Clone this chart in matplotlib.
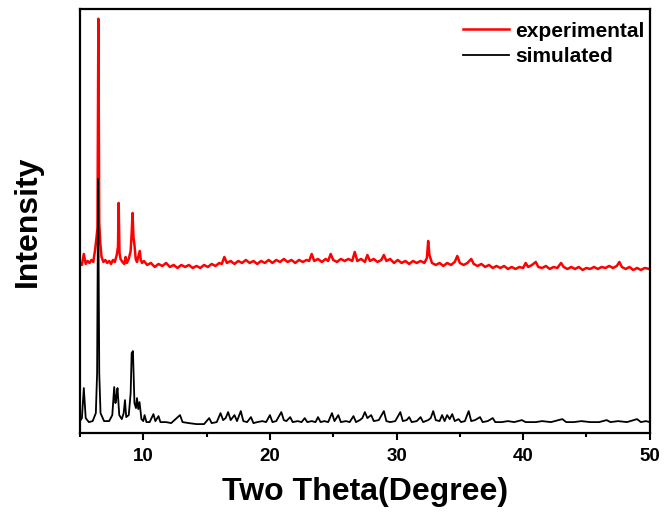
import matplotlib
matplotlib.use("Agg")
import matplotlib.pyplot as plt
from matplotlib.ticker import MultipleLocator

plt.rcParams['font.family'] = ['Liberation Sans', 'DejaVu Sans']
plt.rcParams['font.weight'] = 'bold'

# experimental pattern (2theta, intensity)
exp_x = [5.0, 5.15, 5.3, 5.45, 5.6, 5.75, 5.9, 6.05, 6.2, 6.3, 6.38, 6.45, 6.52, 6.6, 6.7, 6.85,
         7.0, 7.15, 7.3, 7.45, 7.6, 7.75, 7.9, 8.0, 8.05, 8.12, 8.2, 8.35, 8.5, 8.6, 8.7, 8.85,
         9.0, 9.08, 9.15, 9.22, 9.3, 9.4, 9.5, 9.6, 9.72, 9.8, 9.9, 10.05,
         10.3, 10.6, 10.9, 11.2, 11.5, 11.8, 12.1, 12.4, 12.7, 13.0, 13.3, 13.6, 13.9, 14.2,
         14.5, 14.8, 15.1, 15.4, 15.7, 16.0, 16.2, 16.4, 16.6, 16.9, 17.2, 17.5, 17.8, 18.1,
         18.4, 18.7, 19.0, 19.3, 19.6, 19.9, 20.2, 20.5, 20.8, 21.1, 21.4, 21.7, 22.0, 22.3,
         22.6, 22.9, 23.1, 23.3, 23.5, 23.8, 24.1, 24.4, 24.6, 24.8, 25.0, 25.3, 25.6, 25.9,
         26.2, 26.5, 26.7, 26.9, 27.2, 27.5, 27.7, 27.9, 28.2, 28.5, 28.8, 29.0, 29.2, 29.5,
         29.8, 30.1, 30.4, 30.7, 31.0, 31.3, 31.6, 31.9, 32.2, 32.4, 32.5, 32.6, 32.8, 33.1,
         33.4, 33.7, 34.0, 34.3, 34.6, 34.8, 35.0, 35.3, 35.6, 35.9, 36.1, 36.4, 36.7, 37.0,
         37.3, 37.6, 37.9, 38.2, 38.5, 38.8, 39.1, 39.4, 39.7, 40.0, 40.2, 40.4, 40.7, 41.0,
         41.2, 41.5, 41.8, 42.1, 42.4, 42.7, 43.0, 43.2, 43.5, 43.8, 44.1, 44.4, 44.7, 45.0,
         45.3, 45.6, 45.9, 46.2, 46.5, 46.8, 47.1, 47.4, 47.6, 47.8, 48.1, 48.4, 48.7, 49.0,
         49.3, 49.6, 50.0]
exp_y = [170, 168, 179, 169, 172, 170, 173, 171, 184, 195, 205, 414, 210, 190, 176, 171,
         173, 170, 172, 169, 173, 171, 178, 186, 230, 180, 174, 171, 169, 176, 170, 174,
         182, 200, 220, 196, 188, 174, 171, 176, 182, 173, 170, 172,
         168, 170, 166, 169, 167, 170, 166, 168, 165, 168, 166, 168, 165, 167,
         165, 168, 166, 169, 167, 170, 169, 176, 170, 172, 169, 172, 170, 173,
         170, 172, 169, 172, 170, 173, 170, 173, 171, 174, 171, 173, 170, 173,
         171, 173, 172, 179, 172, 174, 171, 174, 172, 179, 173, 171, 174, 172,
         174, 172, 181, 172, 174, 171, 178, 172, 174, 171, 173, 178, 172, 174,
         170, 173, 170, 172, 169, 172, 170, 172, 170, 175, 192, 178, 170, 168,
         170, 167, 170, 168, 171, 177, 170, 168, 170, 174, 169, 167, 169, 166,
         168, 165, 167, 165, 167, 164, 166, 164, 166, 165, 170, 166, 168, 171,
         166, 165, 167, 164, 166, 165, 170, 166, 164, 166, 164, 166, 163, 165,
         164, 166, 164, 166, 165, 167, 165, 167, 171, 166, 164, 166, 163, 165,
         163, 165, 164]

# simulated pattern (2theta, intensity)
sim_x = [5.0, 5.15, 5.3, 5.45, 5.7, 6.0, 6.25, 6.35, 6.43, 6.52, 6.62, 6.9, 7.3, 7.55, 7.7,
         7.8, 7.87, 7.96, 8.1, 8.3, 8.45, 8.55, 8.65, 8.85, 9.0, 9.08, 9.18, 9.3, 9.42, 9.5,
         9.6, 9.7, 9.85, 10.0, 10.1, 10.25, 10.5, 10.8, 10.95, 11.2, 11.35, 11.8, 12.2, 12.9,
         13.1, 13.6, 14.2, 14.8, 15.2, 15.4, 15.8, 16.1, 16.3, 16.5, 16.7, 16.9, 17.2, 17.4,
         17.7, 17.9, 18.2, 18.5, 18.7, 19.0, 19.4, 19.7, 20.0, 20.2, 20.5, 20.9, 21.1, 21.3,
         21.6, 21.8, 22.2, 22.5, 22.75, 22.95, 23.3, 23.6, 23.8, 24.0, 24.3, 24.6, 24.9, 25.1,
         25.4, 25.6, 26.0, 26.3, 26.6, 26.8, 27.1, 27.3, 27.5, 27.7, 28.0, 28.2, 28.6, 29.0,
         29.2, 29.5, 29.9, 30.3, 30.5, 30.8, 31.0, 31.2, 31.6, 31.9, 32.1, 32.5, 32.7, 32.9,
         33.1, 33.4, 33.6, 33.8, 34.0, 34.2, 34.4, 34.6, 34.9, 35.1, 35.4, 35.7, 35.9, 36.2,
         36.6, 36.8, 37.2, 37.6, 37.8, 38.3, 38.8, 39.3, 39.9, 40.2, 41.0, 41.5, 42.2, 43.1,
         43.4, 44.0, 44.6, 45.3, 46.0, 46.6, 46.9, 47.5, 48.2, 49.0, 49.3, 49.7, 50.0]
sim_y = [12, 15, 45, 15, 11, 12, 20, 60, 254, 60, 20, 12, 12, 18, 46,
         30, 35, 45, 18, 14, 20, 33, 16, 18, 40, 80, 82, 30, 25, 35,
         24, 31, 14, 12, 18, 11, 11, 19, 12, 17, 11, 11, 10, 18,
         11, 10, 9, 9, 15, 10, 11, 20, 13, 15, 21, 13, 18, 12,
         22, 12, 11, 16, 10, 11, 12, 11, 18, 11, 12, 21, 13, 12,
         16, 11, 12, 11, 15, 11, 12, 11, 16, 11, 12, 11, 20, 12,
         18, 11, 12, 11, 17, 11, 13, 15, 21, 15, 18, 12, 13, 22,
         12, 11, 12, 21, 12, 13, 16, 11, 12, 16, 11, 13, 15, 22,
         13, 12, 18, 12, 18, 14, 19, 12, 14, 11, 12, 22, 12, 13,
         16, 11, 12, 15, 11, 11, 12, 11, 13, 11, 11, 12, 11, 14,
         11, 11, 12, 11, 11, 13, 11, 12, 11, 14, 11, 12, 11]

fig = plt.figure(figsize=(6.64, 5.15), dpi=100)
ax = fig.add_axes([0.1205, 0.159, 0.858, 0.824])

ax.plot(exp_x, exp_y, color='red', lw=1.8, label='experimental')
ax.plot(sim_x, sim_y, color='black', lw=1.3, label='simulated')

ax.set_xlim(5, 50)
ax.set_ylim(0, 424)
ax.xaxis.set_major_locator(MultipleLocator(10))
ax.xaxis.set_minor_locator(MultipleLocator(5))
ax.set_yticks([])
ax.tick_params(axis='x', which='major', direction='out', length=5, width=1.5,
               labelsize=13.5, pad=6)
ax.tick_params(axis='x', which='minor', direction='out', length=3, width=1.5)
for s in ax.spines.values():
    s.set_linewidth(1.6)

ax.set_xlabel('Two Theta(Degree)', fontsize=23, fontweight='bold', labelpad=8)
ax.set_ylabel('Intensity', fontsize=23, fontweight='bold', labelpad=27)

ax.legend(loc='upper right', frameon=False, fontsize=15, handlelength=2.2,
          handletextpad=0.3, labelspacing=0.32, borderaxespad=0.0, borderpad=0.35,
          bbox_to_anchor=(1.004, 0.987))

fig.savefig('out.png', dpi=100)
